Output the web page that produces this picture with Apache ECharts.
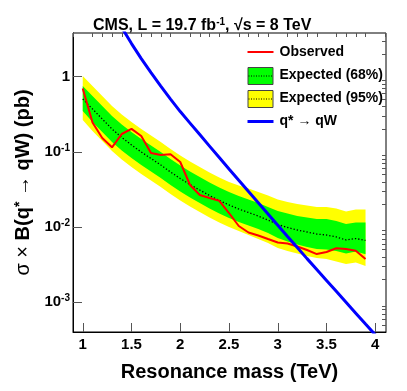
<!DOCTYPE html>
<html>
<head>
<meta charset="utf-8">
<script src="https://cdn.jsdelivr.net/npm/echarts@6/dist/echarts.min.js"></script>
<style>
  html, body {margin: 0; padding: 0; background: #fff;}
  #chart {width: 407px; height: 391px;}
</style>
</head>
<body>
<div id="chart"></div>
<script>
// resonance mass points (TeV)
const mass = [1.0, 1.1, 1.2, 1.3, 1.4, 1.5, 1.6, 1.7, 1.8, 1.9, 2.0, 2.1, 2.2, 2.3, 2.4,
  2.5, 2.6, 2.7, 2.8, 2.9, 3.0, 3.1, 3.2, 3.3, 3.4, 3.5, 3.6, 3.7, 3.8, 3.9];
// observed limit (pb)
const observed = [0.697, 0.246, 0.153, 0.115, 0.173, 0.202, 0.163, 0.0967, 0.0910, 0.0929,
  0.0734, 0.0363, 0.0267, 0.0244, 0.0224, 0.0154, 0.01035, 0.00848, 0.00773, 0.00694,
  0.00624, 0.00605, 0.00552, 0.00496, 0.00438, 0.00467, 0.00523, 0.00512, 0.00486, 0.00377];
// expected limit, median
const expected = [0.505, 0.372, 0.274, 0.2016, 0.1554, 0.1235, 0.0997, 0.0817, 0.0670, 0.0540,
  0.0443, 0.0368, 0.0311, 0.0263, 0.0226, 0.0197, 0.0174, 0.01563, 0.01405, 0.01243,
  0.01083, 0.00988, 0.00915, 0.00861, 0.00809, 0.00785, 0.00739, 0.00674, 0.00705, 0.00664];
// 68% band
const exp68Up = [0.752, 0.554, 0.4077, 0.300, 0.2313, 0.1839, 0.1484, 0.1217, 0.0997, 0.0804,
  0.0659, 0.0549, 0.0464, 0.0392, 0.0336, 0.0293, 0.0259, 0.02328, 0.02092, 0.01851,
  0.01637, 0.01517, 0.01405, 0.01342, 0.01281, 0.01281, 0.01205, 0.0110, 0.01151, 0.01151];
const exp68Down = [0.350, 0.2497, 0.1839, 0.1354, 0.1044, 0.0829, 0.0670, 0.0549, 0.0450, 0.0363,
  0.02974, 0.02474, 0.02092, 0.01768, 0.01517, 0.01321, 0.01169, 0.01050, 0.00943, 0.00834,
  0.00716, 0.00643, 0.00587, 0.00544, 0.00511, 0.00504, 0.00481, 0.00445, 0.00474, 0.00435];
// 95% band
const exp95Up = [1.02, 0.752, 0.554, 0.408, 0.3144, 0.2497, 0.2016, 0.1652, 0.1354, 0.1093,
  0.0896, 0.0745, 0.0630, 0.0532, 0.0457, 0.0398, 0.0357, 0.0326, 0.0293, 0.0263,
  0.02328, 0.02157, 0.02029, 0.01937, 0.01851, 0.01851, 0.01768, 0.01612, 0.01714, 0.01714];
const exp95Down = [0.2656, 0.1896, 0.1396, 0.1028, 0.0792, 0.0630, 0.0508, 0.0417, 0.0341, 0.02756,
  0.0226, 0.01879, 0.01588, 0.01342, 0.01151, 0.01003, 0.00887, 0.00785, 0.00695, 0.00614,
  0.00527, 0.00481, 0.00445, 0.00413, 0.00388, 0.00376, 0.00349, 0.00323, 0.00338, 0.00304];
// q* -> qW theory curve
const theoryMass = [1.3, 1.4, 1.5, 1.6, 1.7, 1.8, 1.9, 2.0, 2.1, 2.2, 2.3, 2.4, 2.5, 2.6, 2.7,
  2.8, 2.9, 3.0, 3.1, 3.2, 3.3, 3.4, 3.5, 3.6, 3.7, 3.8, 3.9, 4.0];
const theory = [7.48, 4.51, 2.755, 1.741, 1.134, 0.750, 0.5036, 0.3435, 0.2415, 0.1699, 0.1194,
  0.0840, 0.0592, 0.0419, 0.02966, 0.02104, 0.01493, 0.01060, 0.00752, 0.00534, 0.00381,
  0.00273, 0.001955, 0.001401, 0.001003, 0.000718, 0.000514, 0.000369];

// ticks
const xMajor = [1, 1.5, 2, 2.5, 3, 3.5, 4];
const xMinor = [0.9, 1.1, 1.2, 1.3, 1.4, 1.6, 1.7, 1.8, 1.9, 2.1, 2.2, 2.3, 2.4, 2.6, 2.7, 2.8, 2.9,
  3.1, 3.2, 3.3, 3.4, 3.6, 3.7, 3.8, 3.9, 4.1];
const yMajor = [0.001, 0.01, 0.1, 1];
const yMinor = [0.0005, 0.0006, 0.0007, 0.0008, 0.0009,
  0.002, 0.003, 0.004, 0.005, 0.006, 0.007, 0.008, 0.009,
  0.02, 0.03, 0.04, 0.05, 0.06, 0.07, 0.08, 0.09,
  0.2, 0.3, 0.4, 0.5, 0.6, 0.7, 0.8, 0.9, 2, 3];

const FONT = 'Liberation Sans, Arial, Helvetica, sans-serif';

const chart = echarts.init(document.getElementById('chart'));

// filled band between two curves
const band = (upper, lower, color) => ({
  type: 'custom',
  silent: true,
  z: 1,
  data: mass.map((m, i) => [m, upper[i], lower[i]]),
  encode: {x: 0, y: [1, 2]},
  renderItem(params, api) {
    if (params.dataIndex !== 0) return null;
    const pts = [];
    mass.forEach((m, i) => pts.push(api.coord([m, upper[i]])));
    for (let i = mass.length - 1; i >= 0; i--) pts.push(api.coord([mass[i], lower[i]]));
    return {type: 'polygon', shape: {points: pts}, style: {fill: color}};
  }
});

const xBase = {
  type: 'value', min: 0.9, max: 4.11, gridIndex: 0,
  splitLine: {show: false}
};
const yBase = {
  type: 'log', min: 4.03e-4, max: 3.81, logBase: 10,
  splitLine: {show: false}
};

chart.setOption({
  animation: false,
  backgroundColor: '#fff',
  textStyle: {fontFamily: FONT},
  grid: {left: 73, right: 21, top: 33, bottom: 59, show: true, borderColor: '#000', borderWidth: 1},
  title: {
    left: 88, top: 12,
    text: 'CMS, L = 19.7 fb{sup|-1}, √s = 8 TeV',
    textStyle: {
      fontSize: 16, fontWeight: 'bold', color: '#000', fontFamily: FONT,
      rich: {sup: {fontSize: 10, fontWeight: 'bold', verticalAlign: 'top', padding: [0, 0, 8, 0], fontFamily: FONT}}
    }
  },
  xAxis: [
    {
      ...xBase,
      name: 'Resonance mass (TeV)',
      nameLocation: 'middle',
      nameGap: 30,
      nameTextStyle: {fontSize: 20, fontWeight: 'bold', color: '#000', fontFamily: FONT},
      axisLine: {show: true, lineStyle: {color: '#000', width: 1}},
      axisTick: {show: true, inside: true, length: 9, customValues: xMajor, lineStyle: {color: '#555'}},
      axisLabel: {
        customValues: xMajor, margin: 5, fontSize: 15, fontWeight: 'bold', color: '#000', fontFamily: FONT,
        formatter: v => String(v)
      }
    },
    {
      ...xBase,
      axisLine: {show: false},
      axisTick: {show: true, inside: true, length: 4, customValues: xMinor, lineStyle: {color: '#555'}},
      axisLabel: {show: false}
    }
  ],
  yAxis: [
    {
      ...yBase,
      name: '{r|σ × }{b|B(q}{s|*}{r| → }{b|qW) (pb)}',
      nameLocation: 'middle',
      nameRotate: 90,
      nameGap: 40,
      nameTextStyle: {
        color: '#000',
        rich: {
          r: {fontSize: 20, fontFamily: FONT, color: '#000'},
          b: {fontSize: 20, fontWeight: 'bold', fontFamily: FONT, color: '#000'},
          s: {fontSize: 14, fontWeight: 'bold', fontFamily: FONT, color: '#000', verticalAlign: 'top', padding: [0, 0, 6, 0]}
        }
      },
      axisLine: {show: true, lineStyle: {color: '#000', width: 1}},
      axisTick: {show: true, inside: true, length: 9, customValues: yMajor, lineStyle: {color: '#555'}},
      axisLabel: {
        customValues: yMajor, margin: 3, color: '#000',
        formatter(v) {
          if (v >= 0.99) return '{b|1}';
          return '{b|10}{s|' + Math.round(Math.log10(v)) + '}';
        },
        rich: {
          b: {fontSize: 15, fontWeight: 'bold', fontFamily: FONT, color: '#000'},
          s: {fontSize: 10, fontWeight: 'bold', fontFamily: FONT, color: '#000', verticalAlign: 'top', padding: [0, 0, 8, 0]}
        }
      }
    },
    {
      ...yBase,
      axisLine: {show: false},
      axisTick: {show: true, inside: true, length: 4, customValues: yMinor, lineStyle: {color: '#555'}},
      axisLabel: {show: false}
    }
  ],
  series: [
    band(exp95Up, exp95Down, '#ffff00'),
    band(exp68Up, exp68Down, '#00ff00'),
    {
      name: 'Expected', type: 'line', z: 3, symbol: 'none',
      data: mass.map((m, i) => [m, expected[i]]),
      lineStyle: {color: '#000', width: 1.3, type: [1.3, 2]}
    },
    {
      name: 'Observed', type: 'line', z: 4, symbol: 'none',
      data: mass.map((m, i) => [m, observed[i]]),
      lineStyle: {color: '#ff0000', width: 2}
    },
    {
      name: 'q* → qW', type: 'line', z: 5, symbol: 'none', clip: true,
      data: theoryMass.map((m, i) => [m, theory[i]]),
      lineStyle: {color: '#0000ff', width: 3}
    }
  ],
  // legend drawn ROOT-style
  graphic: [{
    type: 'group', left: 245, top: 45, z: 100,
    children: [
      {type: 'line', shape: {x1: 0, y1: 9.5, x2: 26, y2: 9.5}, style: {stroke: '#ff0000', lineWidth: 2}},
      {type: 'text', x: 32, y: 9.5, style: {text: 'Observed', fontSize: 14, fontWeight: 'bold', fontFamily: FONT, fill: '#000', verticalAlign: 'middle'}},
      {type: 'rect', shape: {x: 0.5, y: 25, width: 25, height: 17}, style: {fill: '#00ff00', stroke: '#444', lineWidth: 1}},
      {type: 'line', shape: {x1: 1, y1: 33.5, x2: 25, y2: 33.5}, style: {stroke: '#000', lineWidth: 1, lineDash: [1, 1.5]}},
      {type: 'text', x: 32, y: 33, style: {text: 'Expected (68%)', fontSize: 14, fontWeight: 'bold', fontFamily: FONT, fill: '#000', verticalAlign: 'middle'}},
      {type: 'rect', shape: {x: 0.5, y: 48, width: 25, height: 17}, style: {fill: '#ffff00', stroke: '#444', lineWidth: 1}},
      {type: 'line', shape: {x1: 1, y1: 56.5, x2: 25, y2: 56.5}, style: {stroke: '#000', lineWidth: 1, lineDash: [1, 1.5]}},
      {type: 'text', x: 32, y: 56, style: {text: 'Expected (95%)', fontSize: 14, fontWeight: 'bold', fontFamily: FONT, fill: '#000', verticalAlign: 'middle'}},
      {type: 'line', shape: {x1: 0, y1: 79, x2: 26, y2: 79}, style: {stroke: '#0000ff', lineWidth: 3}},
      {type: 'text', x: 32, y: 79, style: {text: 'q* → qW', fontSize: 14, fontWeight: 'bold', fontFamily: FONT, fill: '#000', verticalAlign: 'middle'}}
    ]
  }]
});
</script>
</body>
</html>
